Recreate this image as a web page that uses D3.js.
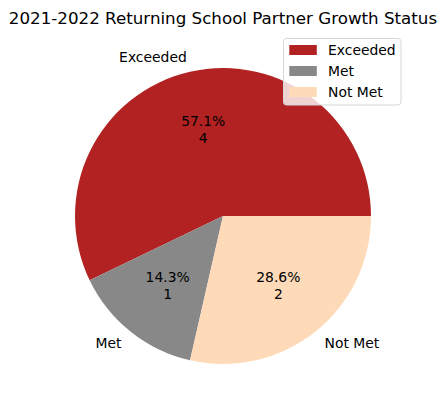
<!DOCTYPE html>
<html><head><meta charset="utf-8">
<script src="https://cdn.jsdelivr.net/npm/d3@7"></script>
<style>body{margin:0;background:#fff}svg{display:block}text{font-family:"DejaVu Sans",sans-serif}</style>
</head><body><svg id="c" width="446" height="411"></svg>
<script>
const categories = ["Exceeded", "Met", "Not Met"];
const counts = [4, 1, 2];
const colors = ["#b22222", "#888888", "#ffdab9"];
const title = "2021-2022 Returning School Partner Growth Status";

const svg = d3.select("#c");
const cx = 223, cy = 216, R = 148;
const total = d3.sum(counts);
const fs = 13.9;

const pie = d3.pie().sort(null).value(d => d)
  .startAngle(Math.PI/2).endAngle(Math.PI/2 - 2*Math.PI);
const arcs = pie(counts);
const arc = d3.arc().innerRadius(0).outerRadius(R);
const g = svg.append("g").attr("transform", `translate(${cx},${cy})`);
g.selectAll("path").data(arcs).enter().append("path")
  .attr("d", arc).attr("fill", (d,i) => colors[i]);

function pos(d, r) {
  const a = (d.startAngle + d.endAngle)/2;
  return [r*Math.sin(a), -r*Math.cos(a)];
}
arcs.forEach((d,i) => {
  const [x,y] = pos(d, 1.1*R);
  g.append("text").attr("x", x).attr("y", y).attr("dy", "0.35em")
    .attr("text-anchor", x < 0 ? "end" : "start")
    .attr("font-size", fs).attr("fill", "#000").text(categories[i]);
  const [px,py] = pos(d, 0.6*R);
  const pct = (counts[i]/total*100).toFixed(1) + "%";
  const t = g.append("text").attr("text-anchor","middle").attr("font-size",fs).attr("fill","#000");
  t.append("tspan").attr("x", px).attr("y", py - 8.3).attr("dy","0.35em").text(pct);
  t.append("tspan").attr("x", px).attr("y", py + 8.3).attr("dy","0.35em").text(counts[i]);
});

svg.append("text").attr("x", 223).attr("y", 24).attr("text-anchor","middle")
  .attr("font-size", 16.7).attr("fill","#000").text(title);

const lg = svg.append("g");
lg.append("rect").attr("x", 283.5).attr("y", 38.5).attr("width", 117.5).attr("height", 66.5)
  .attr("rx", 3).attr("fill", "rgba(255,255,255,0.8)").attr("stroke", "#d6d6d6");
categories.forEach((c,i) => {
  const y = 50 + i*21;
  lg.append("rect").attr("x", 289.3).attr("y", y - 5).attr("width", 27.5).attr("height", 10).attr("fill", colors[i]);
  lg.append("text").attr("x", 328).attr("y", y).attr("dy","0.35em").attr("font-size", fs).text(c);
});
</script></body></html>
